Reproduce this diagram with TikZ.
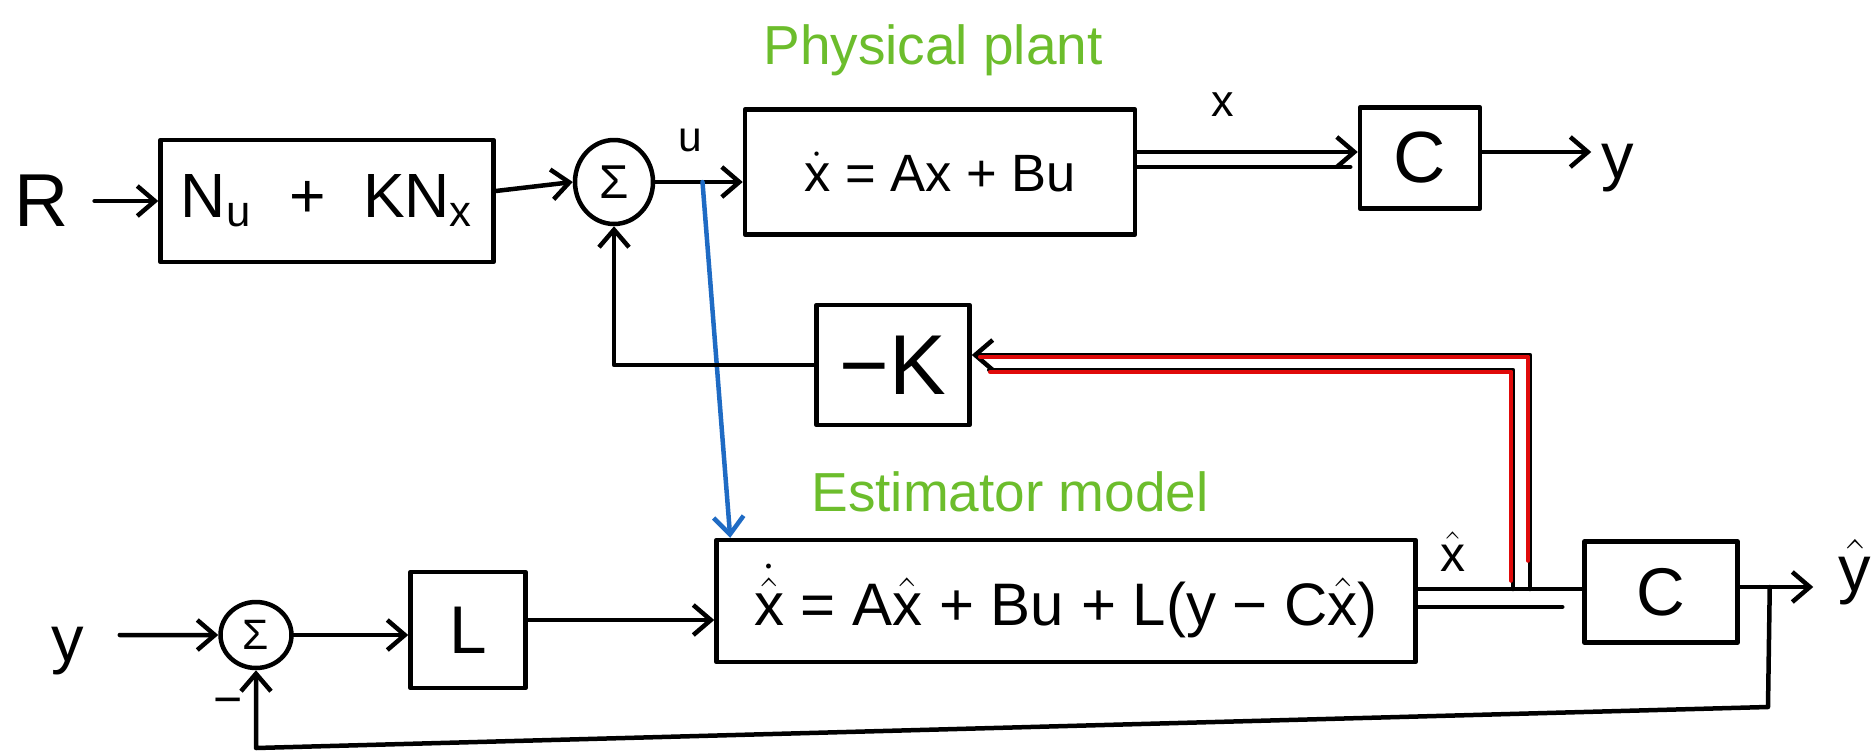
\RequirePackage{fix-cm}
\documentclass[tikz,border=0pt]{standalone}
\usepackage{fontspec}
\setmainfont{Liberation Sans}
\usetikzlibrary{arrows.meta,shapes.geometric,calc}
\definecolor{inkgreen}{HTML}{6CBD2C}
\definecolor{inkblue}{HTML}{1F6BC4}
\definecolor{inkred}{HTML}{E00A0A}
\newcommand{\fsz}[1]{\fontsize{#1}{#1}\selectfont}
\begin{document}
\begin{tikzpicture}[x=0.4pt,y=-0.4pt,
  ink/.style={line width=1.8pt, line cap=round, line join=round},
  blk/.style={ink, draw, rectangle, inner sep=0pt},
  sumnode/.style={ink, draw, ellipse, inner sep=0pt},
  lbl/.style={inner sep=0pt},
  tip/.style={-{Straight Barb[length=7pt,width=12pt]}},
  arr/.style={ink, tip},
  greentext/.style={lbl, text=inkgreen, font=\fsz{22}}
]
\useasboundingbox (0,0) rectangle (1875,754);

% top row
\node[lbl, font=\fsz{30}] (R) at (42,201) {R};
\node[blk, minimum width=133.2pt, minimum height=48.8pt, font=\fsz{25}] (NK) at (327,201) {N$_\mathrm{u}$\hspace{0.6em}+\hspace{0.6em}KN$_\mathrm{x}$};
\node[sumnode, minimum width=31.2pt, minimum height=33.6pt, font=\fsz{19}] (S1) at (614,182) {Σ};
\node[lbl, font=\fsz{17}] (ulab) at (690,140) {u};
\node[blk, minimum width=156pt, minimum height=50pt, font=\fsz{21}] (P) at (940,172) {$\dot{\mathrm{x}}$ = Ax + Bu};
\node[lbl, font=\fsz{18}] (xlab) at (1223,105) {x};
\node[blk, minimum width=48pt, minimum height=40.4pt, font=\fsz{29}] (C1) at (1420,158) {C};
\node[lbl, font=\fsz{26}] (yout) at (1618,168) {y};
\node[greentext] (gp) at (933,50) {Physical plant};

% middle
\node[blk, minimum width=61.2pt, minimum height=48pt, font=\fsz{34}] (mK) at (893,365) {−K};
\node[greentext] (ge) at (1010,492) {Estimator model};

% bottom row
\node[lbl, font=\fsz{26}] (yin) at (68,651) {y};
\node[sumnode, minimum width=28.4pt, minimum height=26.4pt, font=\fsz{17}] (S2) at (256,635) {Σ};
\node[lbl, font=\fsz{20}] (minus) at (228,707) {−};
\node[blk, minimum width=46pt, minimum height=46.4pt, font=\fsz{27}] (L) at (468,630) {L};
\node[blk, minimum width=279.6pt, minimum height=48.8pt, font=\fsz{24}] (E) at (1066,601) {$\dot{\hat{\mathrm{x}}}$ = A$\hat{\mathrm{x}}$ + Bu + L(y − C$\hat{\mathrm{x}}$)};
\node[lbl, font=\fsz{20}] (xhlab) at (1453,552) {$\hat{\mathrm{x}}$};
\node[blk, minimum width=61.2pt, minimum height=40.4pt, font=\fsz{27}] (C2) at (1661,592) {C};
\node[lbl, font=\fsz{26}] (yhat) at (1855,572) {$\hat{\mathrm{y}}$};

% top connectors
\draw[arr, shorten <=10pt] (R) -- (NK);
\draw[arr] ([yshift=4pt]NK.east) -- (S1.west);
\draw[arr] (S1.east) -- (S1.east -| P.west);
\coordinate (ub) at ($(S1.east)!0.54!(S1.east -| P.west)$);
\draw[ink, inkblue, tip] (ub) -- ([xshift=6.4pt]E.north west);
\draw[arr] ([yshift=8pt]P.east) -- ([yshift=8pt]P.east -| C1.west);
\draw[ink] ([yshift=2pt]P.east) -- ([yshift=2pt,xshift=-3pt]P.east -| C1.west);
\draw[arr, shorten >=4pt] ([yshift=2.4pt]C1.east) -- ([yshift=2.4pt]C1.east -| yout.west);

% feedback through -K
\draw[arr] (mK.west) -| (S1.south);

% estimator to C2
\draw[ink] ([yshift=4.8pt]E.east) -- ([yshift=4.8pt]E.east -| C2.west);
\draw[ink] ([yshift=-2.4pt]E.east) -- ([yshift=-2.4pt,xshift=-8pt]E.east -| C2.west);
\coordinate (jo) at (1530,589);
\coordinate (ji) at (1513,589);

% xhat to -K (black under red)
\draw[arr] (jo) |- ([yshift=4pt]mK.east);
\draw[ink] (ji) |- ([yshift=-2pt,xshift=7pt]mK.east);
\begin{scope}[transform canvas={xshift=-0.7pt,yshift=-0.7pt}]
\draw[ink, inkred, line width=1.6pt] ([yshift=12pt]jo) |- ([yshift=4pt,xshift=4pt]mK.east);
\draw[ink, inkred, line width=1.6pt] ([yshift=4pt]ji) |- ([yshift=-2pt,xshift=8pt]mK.east);
\end{scope}

% C2 output and bottom feedback
\draw[arr, shorten >=10pt] ([yshift=2pt]C2.east) -- ([yshift=2pt]C2.east -| yhat.west);
\coordinate (fb) at ([yshift=2pt,xshift=12pt]C2.east);
\coordinate (br) at (1768,707);
\coordinate (bl) at (256,748);
\draw[arr] (fb) -- (br) -- (bl) -- (S2.south);

% bottom connectors
\draw[arr, shorten <=14pt] ([yshift=6.4pt]yin.east) -- (S2.west);
\draw[arr] (S2.east) -- (S2.east -| L.west);
\draw[arr] ([yshift=4pt]L.east) -- ([yshift=4pt]L.east -| E.west);
\end{tikzpicture}
\end{document}
